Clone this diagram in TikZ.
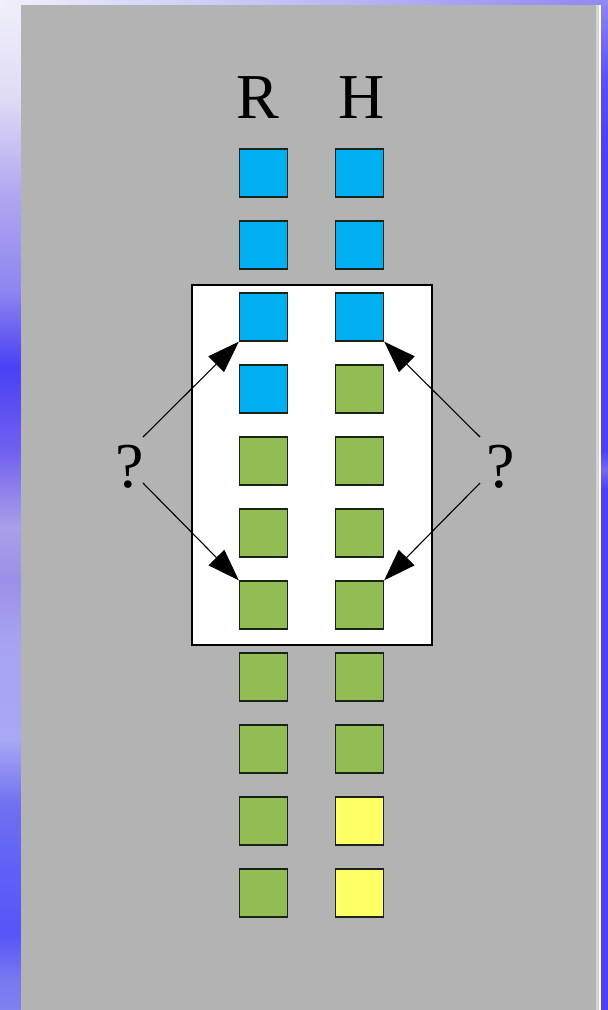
\documentclass[tikz,border=0pt]{standalone}
\usepackage{fontspec}
\setmainfont{Liberation Serif}
\usetikzlibrary{arrows.meta}
\definecolor{bgray}{RGB}{179,179,179}
\definecolor{sqblue}{RGB}{0,176,240}
\definecolor{sqgreen}{RGB}{146,189,84}
\definecolor{sqyellow}{RGB}{255,255,102}
\definecolor{sqedge}{RGB}{25,35,25}
\definecolor{lsa}{HTML}{F0F0FA}
\definecolor{lsb}{HTML}{E0DCF5}
\definecolor{lsc}{HTML}{B0A8F0}
\definecolor{lsd}{HTML}{8E86F0}
\definecolor{lse}{HTML}{4A40F5}
\definecolor{lsf}{HTML}{7060F0}
\definecolor{lsg}{HTML}{A8A0E8}
\definecolor{lsh}{HTML}{9A90E8}
\definecolor{lsi}{HTML}{A8A4F0}
\definecolor{lsj}{HTML}{A8A8F5}
\definecolor{lsk}{HTML}{7070F0}
\definecolor{lsl}{HTML}{6060F8}
\definecolor{lsm}{HTML}{5555F8}
\definecolor{lsn}{HTML}{7878F0}
\definecolor{lso}{HTML}{8080F0}
\definecolor{rsa}{HTML}{9088F0}
\definecolor{rsb}{HTML}{5A50F5}
\definecolor{rsc}{HTML}{7868F0}
\definecolor{edgegray}{HTML}{D4D4D4}
\begin{document}
\begin{tikzpicture}[x=1pt,y=-1pt,
  sq/.style={draw=sqedge,line width=1.3pt,minimum size=48pt,inner sep=0pt},
  lbl/.style={font=\fontsize{64}{64}\selectfont,inner sep=0pt,anchor=base},
  qarrow/.style={line width=1.1pt,-{Triangle[length=32pt,width=22pt]}}]
\useasboundingbox (0,0) rectangle (608,1010);
% left strip
\foreach \ya/\ca/\yb/\cb in {0/lsa/97/lsb,97/lsb/193/lsc,193/lsc/290/lsd,290/lsd/367/lse,367/lse/450/lsf,450/lsf/528/lsg,528/lsg/580/lsh,580/lsh/644/lsi,644/lsi/740/lsj,740/lsj/805/lsk,805/lsk/870/lsl,870/lsl/934/lsm,934/lsm/979/lsn,979/lsn/1010/lso}
  \shade[top color=\ca,bottom color=\cb] (0,\ya-0.5) rectangle (21.5,\yb);
% right strip
\foreach \ya/\ca/\yb/\cb in {0/rsa/80/rsb,80/rsb/150/lse,150/lse/450/lse,450/lse/470/rsc,470/rsc/490/lse,490/lse/1010/lse}
  \shade[top color=\ca,bottom color=\cb] (600.5,\ya-0.5) rectangle (608,\yb);
% top strip
\shade[left color=lsa,right color=rsa] (0,0) rectangle (608,5.5);
% main gray panel
\fill[white] (596,5) rectangle (601,1010);
\fill[edgegray] (596,5) rectangle (598.5,1010);
\fill[bgray] (21,5) rectangle (596,1010);
% white box
\draw[fill=white,line width=1.5pt] (192,285) rectangle (432,645);
% labels
\node[lbl] (lr) at (258,118) {R};
\node[lbl] (lh) at (362,118) {H};
% squares
\foreach \i in {1,...,11}{
  \pgfmathsetmacro{\yy}{173+72*(\i-1)}
  \ifnum\i<5 \def\rc{sqblue}\else\def\rc{sqgreen}\fi
  \ifnum\i<4 \def\hc{sqblue}\else\ifnum\i<10 \def\hc{sqgreen}\else\def\hc{sqyellow}\fi\fi
  \node[sq,fill=\rc] (r\i) at (263.5,\yy) {};
  \node[sq,fill=\hc] (h\i) at (359.5,\yy) {};
}
% question marks
\node[lbl] (ql) at (130,487) {?};
\node[lbl] (qr) at (501,487) {?};
\coordinate (qlu) at (143,437);
\coordinate (qld) at (143,483);
\coordinate (qru) at (480,437);
\coordinate (qrd) at (480,483);
\draw[qarrow] (qlu) -- (r3.south west);
\draw[qarrow] (qld) -- (r7.north west);
\draw[qarrow] (qru) -- (h3.south east);
\draw[qarrow] (qrd) -- (h7.north east);
\end{tikzpicture}
\end{document}
